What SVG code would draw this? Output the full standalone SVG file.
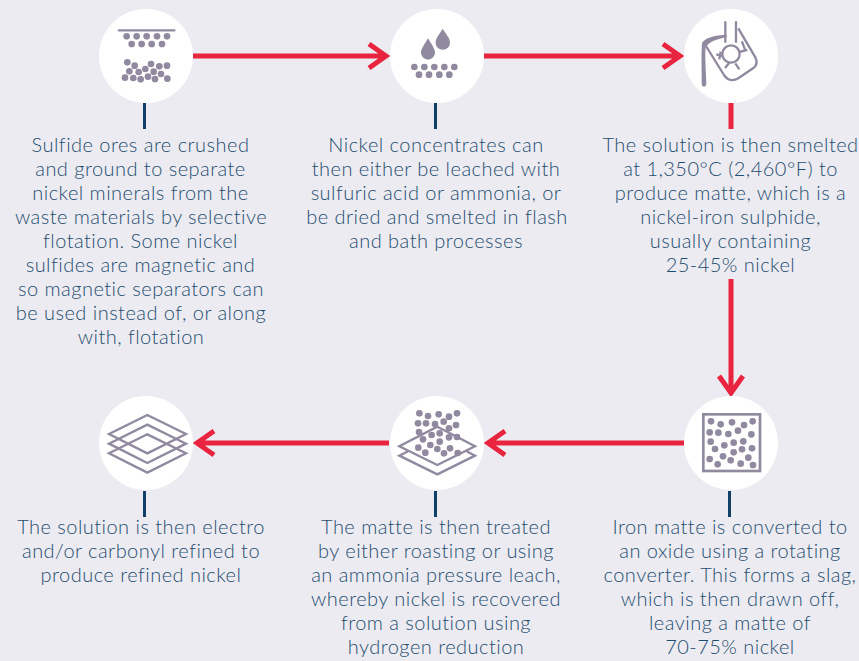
<svg xmlns="http://www.w3.org/2000/svg" width="859" height="661" viewBox="0 0 859 661">
<style>
.bg{fill:#ecebf1}
.disc{fill:#fff}
.d{fill:#91899f}
.o{fill:none;stroke:#91899f;stroke-width:7;stroke-linejoin:miter}
.red{fill:none;stroke:#e9243f;stroke-width:5}
.navy{fill:none;stroke:#123f66;stroke-width:3}
text{font-family:Lato,"Liberation Sans",sans-serif;font-size:20px;font-weight:300;letter-spacing:.47px;fill:#1f4e70;text-anchor:middle}
</style>
<rect class="bg" width="859" height="661"/>
<g id="connectors">
<path class="red" d="M193 56H385M369 44L386 56L369 68"/>
<path class="red" d="M484 56H679M663 44L680 56L663 68"/>
<path class="red" d="M731 279V392M719 376L731 393L743 376"/>
<path class="red" d="M684 443H489M505 431L488 443L505 455"/>
<path class="red" d="M389 443H198M214 431L197 443L214 455"/>
<path class="navy" d="M144.500 103V129"/>
<path class="navy" d="M435.500 103V129"/>
<path class="red" d="M731 103V129"/>
<path class="navy" d="M729.500 491V517"/>
<path class="navy" d="M435.500 491V517"/>
<path class="navy" d="M144.500 491V517"/>
</g>
<g id="node1">
<circle class="disc" cx="146" cy="56" r="47"/>
<g transform="translate(90 0) scale(.3333)">
<path d="M87 91H253" stroke="#91899f" stroke-width="7" stroke-linecap="round"/>
<g class="d">
<circle cx="110" cy="109" r="10"/><circle cx="140" cy="109" r="10"/><circle cx="170" cy="109" r="10"/><circle cx="201" cy="109" r="10"/><circle cx="231" cy="109" r="10"/>
<circle cx="125" cy="132" r="10"/><circle cx="155" cy="132" r="10"/><circle cx="185" cy="132" r="10"/><circle cx="216" cy="132" r="10"/>
<circle cx="112" cy="187" r="10"/><circle cx="134" cy="197" r="10"/><circle cx="183" cy="192" r="10"/><circle cx="208" cy="199" r="10"/><circle cx="231" cy="197" r="10"/>
<circle cx="118" cy="214" r="10"/><circle cx="146" cy="216" r="10"/><circle cx="166" cy="207" r="10"/><circle cx="191" cy="215" r="10"/><circle cx="213" cy="222" r="10"/>
<circle cx="105" cy="233" r="10"/><circle cx="130" cy="234" r="10"/><circle cx="152" cy="238" r="10"/><circle cx="174" cy="230" r="10"/><circle cx="195" cy="237" r="10"/><circle cx="232" cy="236" r="10"/>
</g></g>
<text x="140.500" y="152">Sulfide ores are crushed</text>
<text x="140.500" y="176">and ground to separate</text>
<text x="140.500" y="200">nickel minerals from the</text>
<text x="141" y="224">waste materials by selective</text>
<text x="140.500" y="248">flotation. Some nickel</text>
<text x="140.500" y="272">sulfides are magnetic and</text>
<text x="141" y="296">so magnetic separators can</text>
<text x="141" y="320">be used instead of, or along</text>
<text x="141" y="344">with, flotation</text>
</g>
<g id="node2">
<circle class="disc" cx="437" cy="56" r="47"/>
<g transform="translate(380 0) scale(.3333)">
<g class="d">
<path d="M144 115C152 130 165 145 165 158A21 21 0 0 1 123 158C123 145 136 130 144 115Z"/>
<path d="M188 86C196 101 210 112 210 128A21 21 0 0 1 167 128C167 112 180 101 188 86Z"/>
<circle cx="103" cy="201" r="10"/><circle cx="133" cy="201" r="10"/><circle cx="163" cy="201" r="10"/><circle cx="193" cy="201" r="10"/><circle cx="223" cy="201" r="10"/>
<circle cx="117" cy="224" r="10"/><circle cx="147" cy="224" r="10"/><circle cx="178" cy="224" r="10"/><circle cx="208" cy="224" r="10"/>
</g></g>
<text x="436" y="152">Nickel concentrates can</text>
<text x="436" y="176">then either be leached with</text>
<text x="436" y="200">sulfuric acid or ammonia, or</text>
<text x="437" y="224">be dried and smelted in flash</text>
<text x="436" y="248">and bath processes</text>
</g>
<g id="node3">
<circle class="disc" cx="731" cy="56" r="47"/>
<g transform="translate(670 0) scale(.3333)">
<path class="o" d="M166 64V128M198 64V128"/>
<path class="o" d="M205 85L256 172C263 187 260 198 249 205L205 235C188 245 172 240 162 225L106 135"/>
<path class="o" d="M156 168L139 163M152 155L148 178M210 156L232 150M216 124L226 152M165 204L178 188M196 190L208 208"/>
<circle class="o" cx="183" cy="162" r="26" fill="#fff"/>
<path class="d" d="M170 104C135 105 108 112 96 128C93 170 96 220 95 253A7 7 0 0 0 109 253C108 215 104 170 107 142C118 125 140 118 170 112Z"/>
</g>
<text x="730.500" y="152">The solution is then smelted</text>
<text x="730.500" y="176">at 1,350°C (2,460°F) to</text>
<text x="730.500" y="200">produce matte, which is a</text>
<text x="730.500" y="224">nickel-iron sulphide,</text>
<text x="730.500" y="248">usually containing</text>
<text x="730.500" y="272">25-45% nickel</text>
</g>
<g id="node4">
<circle class="disc" cx="731" cy="443" r="47"/>
<g transform="translate(670 380) scale(.3333)">
<rect x="100" y="103" width="170" height="170" fill="none" stroke="#91899f" stroke-width="8"/>
<g class="d">
<circle cx="123" cy="124" r="10"/><circle cx="152" cy="133" r="10"/><circle cx="186" cy="127" r="10"/><circle cx="222" cy="135" r="10"/><circle cx="248" cy="124" r="10"/>
<circle cx="119" cy="157" r="10"/><circle cx="145" cy="158" r="10"/><circle cx="175" cy="162" r="10"/><circle cx="204" cy="152" r="10"/><circle cx="244" cy="163" r="10"/>
<circle cx="122" cy="185" r="10"/><circle cx="135" cy="207" r="10"/><circle cx="163" cy="196" r="10"/><circle cx="191" cy="188" r="10"/><circle cx="220" cy="184" r="10"/><circle cx="216" cy="208" r="10"/><circle cx="246" cy="205" r="10"/>
<circle cx="191" cy="217" r="10"/><circle cx="159" cy="229" r="10"/><circle cx="119" cy="237" r="10"/><circle cx="143" cy="253" r="10"/><circle cx="182" cy="241" r="10"/><circle cx="212" cy="251" r="10"/><circle cx="235" cy="233" r="10"/><circle cx="249" cy="255" r="10"/>
</g></g>
<text x="730" y="534">Iron matte is converted to</text>
<text x="730" y="558">an oxide using a rotating</text>
<text x="730" y="582">converter. This forms a slag,</text>
<text x="730" y="606">which is then drawn off,</text>
<text x="730" y="630">leaving a matte of</text>
<text x="730" y="654">70-75% nickel</text>
</g>
<g id="node5">
<circle class="disc" cx="437" cy="443" r="47"/>
<g transform="translate(380 385) scale(.3333)">
<g class="d">
<circle cx="118" cy="85" r="10"/><circle cx="144" cy="93" r="10"/><circle cx="176" cy="88" r="10"/><circle cx="207" cy="95" r="10"/><circle cx="231" cy="85" r="10"/>
<circle cx="114" cy="115" r="10"/><circle cx="138" cy="115" r="10"/><circle cx="165" cy="117" r="10"/><circle cx="191" cy="110" r="10"/><circle cx="228" cy="120" r="10"/>
<circle cx="117" cy="141" r="10"/><circle cx="207" cy="130" r="10"/><circle cx="129" cy="163" r="10"/><circle cx="155" cy="150" r="10"/><circle cx="179" cy="145" r="10"/><circle cx="207" cy="157" r="10"/><circle cx="231" cy="156" r="10"/>
<circle cx="179" cy="170" r="10"/><circle cx="151" cy="180" r="10"/><circle cx="115" cy="188" r="10"/><circle cx="136" cy="203" r="10"/><circle cx="172" cy="192" r="10"/><circle cx="192" cy="205" r="10"/><circle cx="210" cy="190" r="10"/><circle cx="233" cy="204" r="10"/>
</g>
<path class="o" d="M172 125L285 184L172 240L58 184Z"/>
<path class="o" d="M84 199L58 212L172 268L285 212L260 199"/>
</g>
<text x="436" y="534">The matte is then treated</text>
<text x="436" y="558">by either roasting or using</text>
<text x="436" y="582">an ammonia pressure leach,</text>
<text x="436" y="606">whereby nickel is recovered</text>
<text x="436" y="630">from a solution using</text>
<text x="436" y="654">hydrogen reduction</text>
</g>
<g id="node6">
<circle class="disc" cx="146" cy="443" r="47"/>
<g transform="translate(90 385) scale(.3333)">
<path class="o" d="M172 90L288 147L172 205L57 147Z"/>
<path class="o" d="M172 119L288 176L172 234L57 176Z"/>
<path class="o" d="M172 148L288 205L172 263L57 205Z"/>
</g>
<text x="141" y="534">The solution is then electro</text>
<text x="141" y="558">and/or carbonyl refined to</text>
<text x="141" y="582">produce refined nickel</text>
</g>
</svg>
